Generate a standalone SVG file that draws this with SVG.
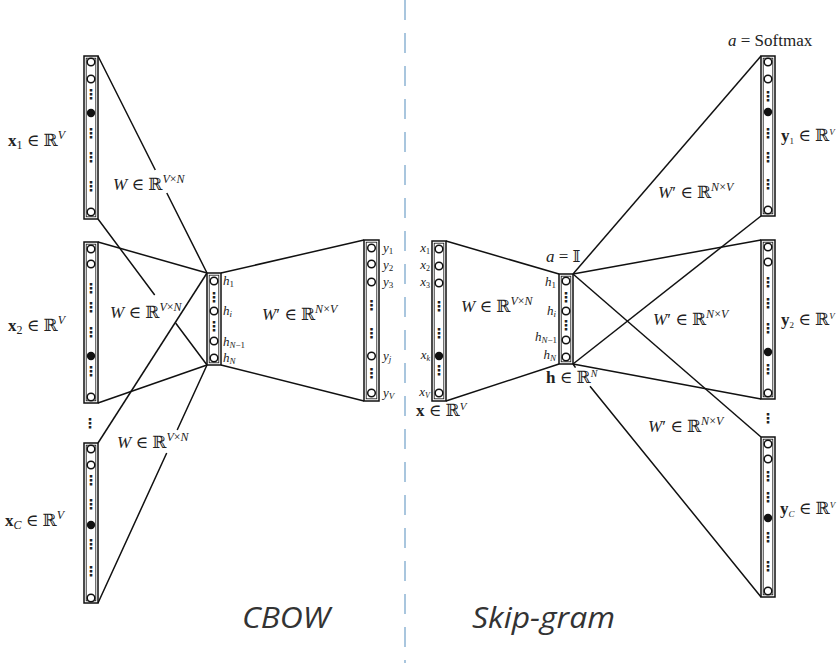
<svg xmlns="http://www.w3.org/2000/svg" width="837" height="663" viewBox="0 0 837 663">
<style>
.o{fill:#fff;stroke:#111;stroke-width:1.5}
.i{fill:none;stroke:#111;stroke-width:0.8}
.n{fill:#fff;stroke:#111;stroke-width:1.5}
.f{fill:#111}
.d{font-family:"DejaVu Sans",sans-serif;font-size:14px;font-weight:bold;fill:#222;text-anchor:middle;dominant-baseline:central}
.m{font-family:"Liberation Serif","DejaVu Serif",serif;font-size:17px;fill:#222}
.s{font-family:"Liberation Serif","DejaVu Serif",serif;font-size:13px;fill:#222}
.it{font-style:italic}
.b{font-weight:bold}
.ln{fill:none;stroke:#111;stroke-width:1.5}
.big{font-family:"Open Sans","Noto Sans",sans-serif;font-style:italic;font-size:29px;fill:#333}
</style>
<rect width="837" height="663" fill="#fff"/>
<line x1="405" y1="0" x2="405" y2="663" stroke="#94b8d6" stroke-width="1.6" stroke-dasharray="20 13"/>

<g id="connectors">
<path class="ln" d="M98,56 L155.3,170 M166.8,193 L207,273"/>
<path class="ln" d="M98,219 L154.7,295 M175.6,323 L207,365"/>
<path class="ln" d="M98,242 L207,273"/>
<path class="ln" d="M98,403 L207,365"/>
<path class="ln" d="M98,443 L207,273"/>
<path class="ln" d="M98,603 L166.7,453 M177.2,430 L207,365"/>
<path class="ln" d="M221,273 L364,240"/>
<path class="ln" d="M221,365 L364,401"/>
<path class="ln" d="M446,241 L559,274"/>
<path class="ln" d="M446,401 L559,364"/>
<path class="ln" d="M573,274 L761,56"/>
<path class="ln" d="M573,274 L761,240"/>
<path class="ln" d="M573,274 L761,437"/>
<path class="ln" d="M573,364 L761,216"/>
<path class="ln" d="M573,364 L761,399"/>
<path class="ln" d="M573,364 L575.5,367.7 M590,386.2 L761,597"/>
</g>

<g id="cbow-x1">
<rect class="o" x="84" y="56" width="14" height="163"/>
<rect class="i" x="86.2" y="58.2" width="9.6" height="158.6"/>
<circle class="n" cx="91" cy="62" r="3.8"/>
<circle class="n" cx="91" cy="79" r="3.8"/>
<text class="d" x="91" y="94">⋮</text>
<circle class="f" cx="91" cy="113" r="4.2"/>
<text class="d" x="91" y="133">⋮</text>
<text class="d" x="91" y="157">⋮</text>
<text class="d" x="91" y="186">⋮</text>
<circle class="n" cx="91" cy="212" r="3.8"/>
<text class="m" x="8" y="146"><tspan class="b">x</tspan><tspan font-size="12" dy="3">1</tspan><tspan dy="-3"> ∈ ℝ</tspan><tspan class="it" font-size="12" dy="-7">V</tspan></text>
</g>

<g id="cbow-x2">
<rect class="o" x="84" y="242" width="14" height="161"/>
<rect class="i" x="86.2" y="244.2" width="9.6" height="156.6"/>
<circle class="n" cx="91" cy="249" r="3.8"/>
<circle class="n" cx="91" cy="264" r="3.8"/>
<text class="d" x="91" y="288">⋮</text>
<text class="d" x="91" y="307">⋮</text>
<text class="d" x="91" y="332">⋮</text>
<circle class="f" cx="91" cy="356" r="4.2"/>
<text class="d" x="91" y="371">⋮</text>
<circle class="n" cx="91" cy="397" r="3.8"/>
<text class="m" x="8" y="331"><tspan class="b">x</tspan><tspan font-size="12" dy="3">2</tspan><tspan dy="-3"> ∈ ℝ</tspan><tspan class="it" font-size="12" dy="-7">V</tspan></text>
</g>

<text class="d" x="90" y="423">⋮</text>

<g id="cbow-xC">
<rect class="o" x="84" y="443" width="14" height="160"/>
<rect class="i" x="86.2" y="445.2" width="9.6" height="155.6"/>
<circle class="n" cx="91" cy="449" r="3.8"/>
<circle class="n" cx="91" cy="465" r="3.8"/>
<text class="d" x="91" y="480">⋮</text>
<text class="d" x="91" y="504">⋮</text>
<circle class="f" cx="91" cy="525" r="4.2"/>
<text class="d" x="91" y="544">⋮</text>
<text class="d" x="91" y="571">⋮</text>
<circle class="n" cx="91" cy="598" r="3.8"/>
<text class="m" x="5" y="526"><tspan class="b">x</tspan><tspan class="it" font-size="12" dy="3">C</tspan><tspan dy="-3"> ∈ ℝ</tspan><tspan class="it" font-size="12" dy="-7">V</tspan></text>
</g>

<g id="cbow-w-labels">
<text class="m" x="113" y="190"><tspan class="it">W</tspan> ∈ ℝ<tspan font-size="12" dy="-7"><tspan class="it">V</tspan>×<tspan class="it">N</tspan></tspan></text>
<text class="m" x="110" y="318"><tspan class="it">W</tspan> ∈ ℝ<tspan font-size="12" dy="-7"><tspan class="it">V</tspan>×<tspan class="it">N</tspan></tspan></text>
<text class="m" x="117" y="448"><tspan class="it">W</tspan> ∈ ℝ<tspan font-size="12" dy="-7"><tspan class="it">V</tspan>×<tspan class="it">N</tspan></tspan></text>
<text class="m" x="262" y="320"><tspan class="it">W</tspan>′ ∈ ℝ<tspan font-size="12" dy="-7"><tspan class="it">N</tspan>×<tspan class="it">V</tspan></tspan></text>
</g>

<g id="cbow-hidden">
<rect class="o" x="207" y="273" width="14" height="92"/>
<rect class="i" x="209.2" y="275.2" width="9.6" height="87.6"/>
<circle class="n" cx="214" cy="281" r="3.8"/>
<text class="d" x="214" y="297">⋮</text>
<circle class="n" cx="214" cy="311" r="3.8"/>
<text class="d" x="214" y="326">⋮</text>
<circle class="n" cx="214" cy="341" r="3.8"/>
<circle class="n" cx="214" cy="358" r="3.8"/>
<text class="s" x="223" y="285"><tspan class="it">h</tspan><tspan font-size="9" dy="2">1</tspan></text>
<text class="s" x="223" y="315"><tspan class="it">h</tspan><tspan class="it" font-size="9" dy="2">i</tspan></text>
<text class="s" x="223" y="346"><tspan class="it">h</tspan><tspan font-size="9" dy="2"><tspan class="it">N</tspan>−1</tspan></text>
<text class="s" x="223" y="362"><tspan class="it">h</tspan><tspan class="it" font-size="9" dy="2">N</tspan></text>
</g>

<g id="cbow-output">
<rect class="o" x="364" y="240" width="15" height="161"/>
<rect class="i" x="366.2" y="242.2" width="10.6" height="156.6"/>
<circle class="n" cx="371.5" cy="248" r="3.8"/>
<circle class="n" cx="371.5" cy="264" r="3.8"/>
<circle class="n" cx="371.5" cy="282" r="3.8"/>
<text class="d" x="371.5" y="305">⋮</text>
<text class="d" x="371.5" y="333">⋮</text>
<circle class="n" cx="371.5" cy="356" r="3.8"/>
<text class="d" x="371.5" y="373">⋮</text>
<circle class="n" cx="371.5" cy="393" r="3.8"/>
<text class="s" x="383" y="252"><tspan class="it">y</tspan><tspan font-size="9" dy="2">1</tspan></text>
<text class="s" x="383" y="269"><tspan class="it">y</tspan><tspan font-size="9" dy="2">2</tspan></text>
<text class="s" x="383" y="286"><tspan class="it">y</tspan><tspan font-size="9" dy="2">3</tspan></text>
<text class="s" x="383" y="360"><tspan class="it">y</tspan><tspan class="it" font-size="9" dy="2">j</tspan></text>
<text class="s" x="383" y="397"><tspan class="it">y</tspan><tspan class="it" font-size="9" dy="2">V</tspan></text>
</g>

<g id="skip-input">
<rect class="o" x="432" y="241" width="14" height="160"/>
<rect class="i" x="434.2" y="243.2" width="9.6" height="155.6"/>
<circle class="n" cx="439" cy="249" r="3.8"/>
<circle class="n" cx="439" cy="266" r="3.8"/>
<circle class="n" cx="439" cy="283" r="3.8"/>
<text class="d" x="439" y="306">⋮</text>
<text class="d" x="439" y="333">⋮</text>
<circle class="f" cx="439" cy="356" r="4.2"/>
<text class="d" x="439" y="370">⋮</text>
<circle class="n" cx="439" cy="393" r="3.8"/>
<text class="s" x="430" y="252" text-anchor="end" font-size="12"><tspan class="it">x</tspan><tspan font-size="8" dy="2">1</tspan></text>
<text class="s" x="430" y="269" text-anchor="end" font-size="12"><tspan class="it">x</tspan><tspan font-size="8" dy="2">2</tspan></text>
<text class="s" x="430" y="286" text-anchor="end" font-size="12"><tspan class="it">x</tspan><tspan font-size="8" dy="2">3</tspan></text>
<text class="s" x="430" y="359" text-anchor="end" font-size="12"><tspan class="it">x</tspan><tspan class="it" font-size="8" dy="2">k</tspan></text>
<text class="s" x="430" y="396" text-anchor="end" font-size="12"><tspan class="it">x</tspan><tspan class="it" font-size="8" dy="2">V</tspan></text>
<text class="m" x="416" y="416" font-size="15"><tspan class="b">x</tspan> ∈ ℝ<tspan class="it" font-size="11" dy="-6">V</tspan></text>
<text class="m" x="461" y="312"><tspan class="it">W</tspan> ∈ ℝ<tspan font-size="12" dy="-7"><tspan class="it">V</tspan>×<tspan class="it">N</tspan></tspan></text>
</g>

<g id="skip-hidden">
<rect class="o" x="559" y="274" width="14" height="90"/>
<rect class="i" x="561.2" y="276.2" width="9.6" height="85.6"/>
<circle class="n" cx="566" cy="281" r="3.8"/>
<text class="d" x="566" y="297">⋮</text>
<circle class="n" cx="566" cy="311" r="3.8"/>
<text class="d" x="566" y="325">⋮</text>
<circle class="n" cx="566" cy="340" r="3.8"/>
<circle class="n" cx="566" cy="357" r="3.8"/>
<text class="s" x="556" y="286" text-anchor="end"><tspan class="it">h</tspan><tspan font-size="9" dy="2">1</tspan></text>
<text class="s" x="556" y="315" text-anchor="end"><tspan class="it">h</tspan><tspan class="it" font-size="9" dy="2">i</tspan></text>
<text class="s" x="557" y="341" text-anchor="end"><tspan class="it">h</tspan><tspan font-size="9" dy="2"><tspan class="it">N</tspan>−1</tspan></text>
<text class="s" x="556" y="359" text-anchor="end"><tspan class="it">h</tspan><tspan class="it" font-size="9" dy="2">N</tspan></text>
<text class="m" x="546" y="262" font-size="15"><tspan class="it">a</tspan> = 𝕀</text>
<text class="m" x="546" y="383" font-size="14"><tspan class="b">h</tspan> ∈ ℝ<tspan class="it" font-size="10" dy="-6">N</tspan></text>
</g>

<g id="skip-y1">
<rect class="o" x="761" y="56" width="14" height="160"/>
<rect class="i" x="763.2" y="58.2" width="9.6" height="155.6"/>
<circle class="n" cx="768" cy="62" r="3.8"/>
<circle class="n" cx="768" cy="79" r="3.8"/>
<text class="d" x="768" y="96">⋮</text>
<circle class="f" cx="768" cy="112" r="4.2"/>
<text class="d" x="768" y="133">⋮</text>
<text class="d" x="768" y="157">⋮</text>
<text class="d" x="768" y="184">⋮</text>
<circle class="n" cx="768" cy="210" r="3.8"/>
<text class="m" x="728" y="46" font-size="14"><tspan class="it">a</tspan> = Softmax</text>
<text class="m" x="781" y="141" font-size="14"><tspan class="b">y</tspan><tspan font-size="9" dy="3">1</tspan><tspan dy="-3"> ∈ ℝ</tspan><tspan class="it" font-size="9" dy="-6">V</tspan></text>
<text class="m" x="658" y="198"><tspan class="it">W</tspan>′ ∈ ℝ<tspan font-size="12" dy="-7"><tspan class="it">N</tspan>×<tspan class="it">V</tspan></tspan></text>
</g>

<g id="skip-y2">
<rect class="o" x="761" y="240" width="14" height="159"/>
<rect class="i" x="763.2" y="242.2" width="9.6" height="154.6"/>
<circle class="n" cx="768" cy="247" r="3.8"/>
<circle class="n" cx="768" cy="262" r="3.8"/>
<text class="d" x="768" y="282">⋮</text>
<text class="d" x="768" y="303">⋮</text>
<text class="d" x="768" y="328">⋮</text>
<circle class="f" cx="768" cy="352" r="4.2"/>
<text class="d" x="768" y="369">⋮</text>
<circle class="n" cx="768" cy="393" r="3.8"/>
<text class="m" x="781" y="325" font-size="14"><tspan class="b">y</tspan><tspan font-size="9" dy="3">2</tspan><tspan dy="-3"> ∈ ℝ</tspan><tspan class="it" font-size="9" dy="-6">V</tspan></text>
<text class="m" x="653" y="325"><tspan class="it">W</tspan>′ ∈ ℝ<tspan font-size="12" dy="-7"><tspan class="it">N</tspan>×<tspan class="it">V</tspan></tspan></text>
</g>

<text class="d" x="768" y="418">⋮</text>

<g id="skip-yC">
<rect class="o" x="761" y="437" width="14" height="160"/>
<rect class="i" x="763.2" y="439.2" width="9.6" height="155.6"/>
<circle class="n" cx="768" cy="444" r="3.8"/>
<circle class="n" cx="768" cy="459" r="3.8"/>
<text class="d" x="768" y="476">⋮</text>
<text class="d" x="768" y="497">⋮</text>
<circle class="f" cx="768" cy="518" r="4.2"/>
<text class="d" x="768" y="537">⋮</text>
<text class="d" x="768" y="566">⋮</text>
<circle class="n" cx="768" cy="591" r="3.8"/>
<text class="m" x="780" y="514" font-size="14"><tspan class="b">y</tspan><tspan class="it" font-size="9" dy="3">C</tspan><tspan dy="-3"> ∈ ℝ</tspan><tspan class="it" font-size="9" dy="-6">V</tspan></text>
<text class="m" x="648" y="432"><tspan class="it">W</tspan>′ ∈ ℝ<tspan font-size="12" dy="-7"><tspan class="it">N</tspan>×<tspan class="it">V</tspan></tspan></text>
</g>

<text class="big" x="242" y="628" textLength="88" lengthAdjust="spacingAndGlyphs">CBOW</text>
<text class="big" x="472" y="628" textLength="143" lengthAdjust="spacingAndGlyphs">Skip-gram</text>
</svg>
